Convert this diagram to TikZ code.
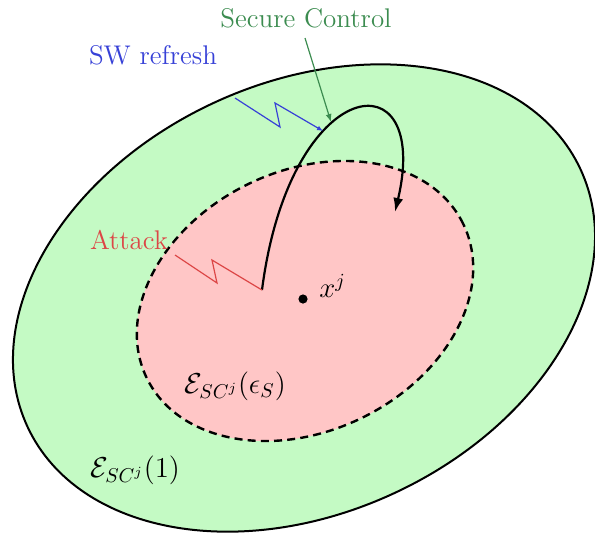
\documentclass[tikz,border=0pt]{standalone}
\usetikzlibrary{arrows.meta}
\definecolor{outerfill}{RGB}{196,250,196}
\definecolor{innerfill}{RGB}{255,198,198}
\definecolor{swblue}{RGB}{55,65,215}
\definecolor{scgreen}{RGB}{60,140,80}
\definecolor{attred}{RGB}{220,70,70}
\tikzset{
  lbl/.style={font=\fontsize{13.5}{16}\selectfont, inner sep=0pt},
  mlbl/.style={font=\fontsize{14.5}{17}\selectfont, inner sep=0pt},
  zig/.style={line width=0.6pt},
}
\begin{document}
\begin{tikzpicture}[x=0.5pt,y=-0.5pt]
\useasboundingbox (0,0) rectangle (595,537);
% outer ellipse
\draw[line width=1pt, fill=outerfill] (304,298) ellipse[x radius=152.5pt, y radius=107.5pt, rotate=25];
% inner ellipse
\draw[line width=1.2pt, fill=innerfill, dash pattern=on 4pt off 2.6pt] (305,301) ellipse[x radius=88pt, y radius=65pt, rotate=26];
% point
\fill (303,299) circle[radius=2.3pt];
\coordinate (xj) at (303,299);
\node[mlbl, anchor=south west] (xjl) at (319,298) {$x^j$};
% control arc
\coordinate (start) at (262,290);
\coordinate (endp) at (395,212);
\draw[line width=1.1pt, -{Latex[length=7pt,width=5pt]}] (start) .. controls (290,72) and (432,55) .. (endp);
% Secure Control
\node[lbl, text=scgreen] (sc) at (306,18) {Secure Control};
\coordinate (sct) at (331,122);
\draw[scgreen, zig, -{Latex[length=4pt,width=3pt]}] (305,38) -- (sct);
% SW refresh
\node[lbl, text=swblue] (sw) at (153,55) {SW refresh};
\coordinate (swt) at (323,131);
\draw[swblue, zig, -{Latex[length=3pt,width=2.5pt]}] (235,98) -- (280,127) -- (275,103) -- (swt);
% Attack
\node[lbl, text=attred] (att) at (129,240) {Attack};
\draw[attred, zig] (175,255) -- (217,283) -- (212,260) -- (start);
% set labels
\node[mlbl] (inl) at (235,386) {$\mathcal{E}_{SC^j}(\epsilon_S)$};
\node[mlbl] (outl) at (135,470) {$\mathcal{E}_{SC^j}(1)$};
\end{tikzpicture}
\end{document}
